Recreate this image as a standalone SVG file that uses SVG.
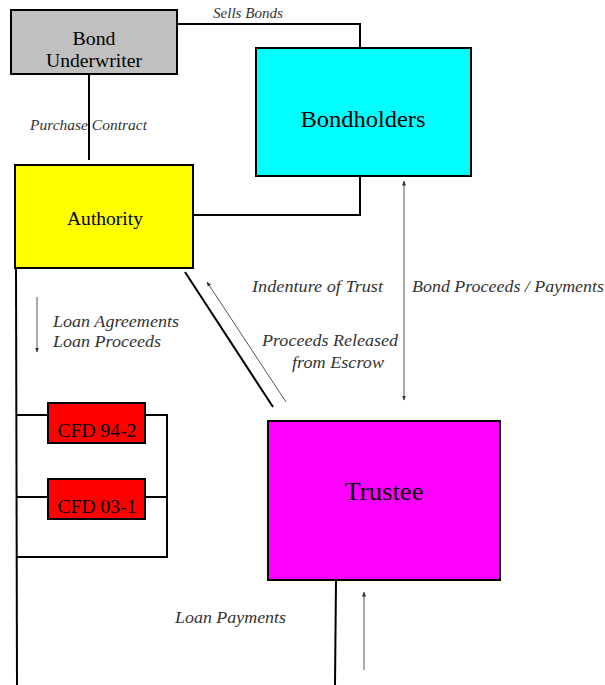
<svg xmlns="http://www.w3.org/2000/svg" width="605" height="685" viewBox="0 0 605 685">
<defs>
<style>
.box{stroke:#000;stroke-width:2}
.t{fill:#000;text-anchor:middle}
.lbl{font-style:italic;font-size:17px;fill:#333}
.c{fill:none;stroke:#000;stroke-width:2}
.a{fill:none;stroke:#555;stroke-width:1}
</style>
<marker id="ah" viewBox="0 0 10 10" refX="9" refY="5" markerWidth="5" markerHeight="5" orient="auto-start-reverse" markerUnits="userSpaceOnUse"><path d="M0,1 L10,5 L0,9 z" fill="#333"/></marker>
</defs>
<rect width="605" height="685" fill="#fff"/>
<g id="connectors">
<polyline class="c" points="177,24 360,24 360,48"/>
<line class="c" x1="89" y1="74" x2="89" y2="160"/>
<polyline class="c" points="193,215 360,215 360,176"/>
<line class="c" x1="16" y1="268" x2="17" y2="685"/>
<line class="c" x1="185" y1="272" x2="273" y2="407"/>
<polyline class="c" points="16,415 48,415"/>
<polyline class="c" points="145,415 167,415 167,557 17,557"/>
<polyline class="c" points="17,497 48,497"/>
<polyline class="c" points="145,497 167,497"/>
<line class="c" x1="336" y1="580" x2="335" y2="685"/>
<line class="a" x1="37" y1="297" x2="37" y2="352" marker-end="url(#ah)"/>
<line class="a" x1="286" y1="402" x2="207" y2="282" marker-end="url(#ah)"/>
<line class="a" x1="404" y1="181" x2="404" y2="400" marker-start="url(#ah)" marker-end="url(#ah)"/>
<line class="a" x1="364" y1="670" x2="364" y2="592" marker-end="url(#ah)"/>
</g>
<g font-family="Liberation Serif, Times New Roman, serif">
<g id="underwriter">
<rect class="box" x="11" y="10" width="166" height="64" fill="#c0c0c0"/>
<text class="t" x="94" y="45" font-size="19" textLength="43" lengthAdjust="spacingAndGlyphs">Bond</text>
<text class="t" x="94" y="67" font-size="19" textLength="96" lengthAdjust="spacingAndGlyphs">Underwriter</text>
</g>
<g id="bondholders">
<rect class="box" x="256" y="48" width="215" height="128" fill="#00ffff"/>
<text class="t" x="363" y="127" font-size="24" textLength="125" lengthAdjust="spacingAndGlyphs">Bondholders</text>
</g>
<g id="authority">
<rect class="box" x="15" y="165" width="178" height="103" fill="#ffff00"/>
<text class="t" x="105" y="225" font-size="19" textLength="76" lengthAdjust="spacingAndGlyphs">Authority</text>
</g>
<g id="cfd942">
<rect class="box" x="48" y="403" width="97" height="40" fill="#ff0000"/>
<text class="t" x="97" y="437" font-size="19" textLength="79" lengthAdjust="spacingAndGlyphs">CFD 94-2</text>
</g>
<g id="cfd031">
<rect class="box" x="48" y="479" width="97" height="40" fill="#ff0000"/>
<text class="t" x="97" y="513" font-size="19" textLength="79" lengthAdjust="spacingAndGlyphs">CFD 03-1</text>
</g>
<g id="trustee">
<rect class="box" x="268" y="421" width="232" height="159" fill="#ff00ff"/>
<text class="t" x="384" y="500" font-size="25" textLength="79" lengthAdjust="spacingAndGlyphs">Trustee</text>
</g>
<g id="labels">
<text class="lbl" x="213" y="18" style="font-size:15px" textLength="70" lengthAdjust="spacingAndGlyphs">Sells Bonds</text>
<text class="lbl" x="30" y="130" style="font-size:15px" textLength="117" lengthAdjust="spacingAndGlyphs">Purchase Contract</text>
<text class="lbl" x="53" y="327" textLength="126" lengthAdjust="spacingAndGlyphs">Loan Agreements</text>
<text class="lbl" x="53" y="347" textLength="108" lengthAdjust="spacingAndGlyphs">Loan Proceeds</text>
<text class="lbl" x="252" y="292" textLength="131" lengthAdjust="spacingAndGlyphs">Indenture of Trust</text>
<text class="lbl" x="412" y="292" textLength="192" lengthAdjust="spacingAndGlyphs">Bond Proceeds / Payments</text>
<text class="lbl" x="262" y="346" textLength="136" lengthAdjust="spacingAndGlyphs">Proceeds Released</text>
<text class="lbl" x="292" y="368" textLength="92" lengthAdjust="spacingAndGlyphs">from Escrow</text>
<text class="lbl" x="175" y="623" textLength="111" lengthAdjust="spacingAndGlyphs">Loan Payments</text>
</g>
</g>
</svg>
